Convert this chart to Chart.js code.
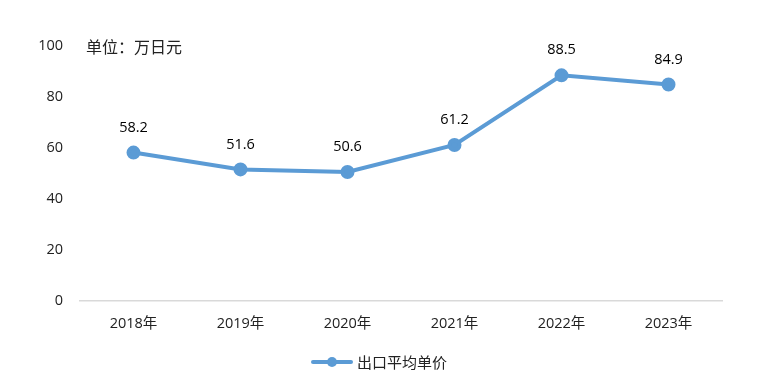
<!DOCTYPE html>
<html>
  <head>
    <meta charset="UTF-8" />
    <title>出口平均单价</title>
    <script src="https://cdn.jsdelivr.net/npm/chart.js"></script>
    <style>
      body { margin: 0; background: #ffffff; }
      .wrap { width: 769px; height: 378px; }
    </style>
  </head>
  <body>
    <div class="wrap"><canvas id="myChart" width="769" height="378"></canvas></div>
    <script>
      const years = ["2018年", "2019年", "2020年", "2021年", "2022年", "2023年"];
      const avgPrice = [58.2, 51.6, 50.6, 61.2, 88.5, 84.9];
      const seriesName = "出口平均单价";
      const unitText = "单位：万日元";

      const FONT = "'Open Sans', 'Noto Sans CJK SC', sans-serif";
      const BLUE = "#5b9bd5";

      const extras = {
        id: "extras",
        afterDatasetsDraw(chart) {
          const ctx = chart.ctx;
          const meta = chart.getDatasetMeta(0);
          ctx.save();
          ctx.fillStyle = "#000";
          ctx.font = "14.5px " + FONT;
          ctx.textAlign = "center";
          ctx.textBaseline = "middle";
          meta.data.forEach((pt, i) => {
            ctx.fillText(avgPrice[i].toFixed(1), pt.x, pt.y - 25);
          });
          // unit label
          ctx.textAlign = "left";
          ctx.font = "16px 'Noto Sans CJK SC', sans-serif";
          ctx.fillStyle = "#222";
          ctx.fillText(unitText, 86, 47);
          // legend
          const ly = 362;
          ctx.strokeStyle = BLUE;
          ctx.lineWidth = 4;
          ctx.lineCap = "round";
          ctx.beginPath();
          ctx.moveTo(313, ly);
          ctx.lineTo(351, ly);
          ctx.stroke();
          ctx.fillStyle = BLUE;
          ctx.beginPath();
          ctx.arc(332, ly, 5, 0, Math.PI * 2);
          ctx.fill();
          ctx.font = "15px 'Noto Sans CJK SC', sans-serif";
          ctx.fillStyle = "#222";
          ctx.fillText(seriesName, 357, ly);
          ctx.restore();
        }
      };

      new Chart(document.getElementById("myChart"), {
        type: "line",
        data: {
          labels: years,
          datasets: [{
            label: seriesName,
            data: avgPrice,
            borderColor: BLUE,
            backgroundColor: BLUE,
            borderWidth: 4,
            pointRadius: 5,
            pointHoverRadius: 5,
            tension: 0
          }]
        },
        options: {
          responsive: false,
          animation: false,
          layout: { padding: { left: 0, right: 47, top: 46, bottom: 0 } },
          plugins: { legend: { display: false }, tooltip: { enabled: false } },
          scales: {
            y: {
              min: 0, max: 100,
              ticks: { stepSize: 20, color: "#222", font: { size: 14.5, family: FONT }, padding: 17 },
              grid: { display: false, drawTicks: false },
              border: { display: false },
              afterFit(scale) { scale.width = 80; }
            },
            x: {
              offset: true,
              ticks: { color: "#222", font: { size: 14.5, family: FONT }, padding: 14 },
              grid: { display: false, drawTicks: false, offset: true },
              border: { color: "#d9d9d9", width: 1.5 },
              afterFit(scale) { scale.height = 77; }
            }
          }
        },
        plugins: [extras]
      });
    </script>
  </body>
</html>
